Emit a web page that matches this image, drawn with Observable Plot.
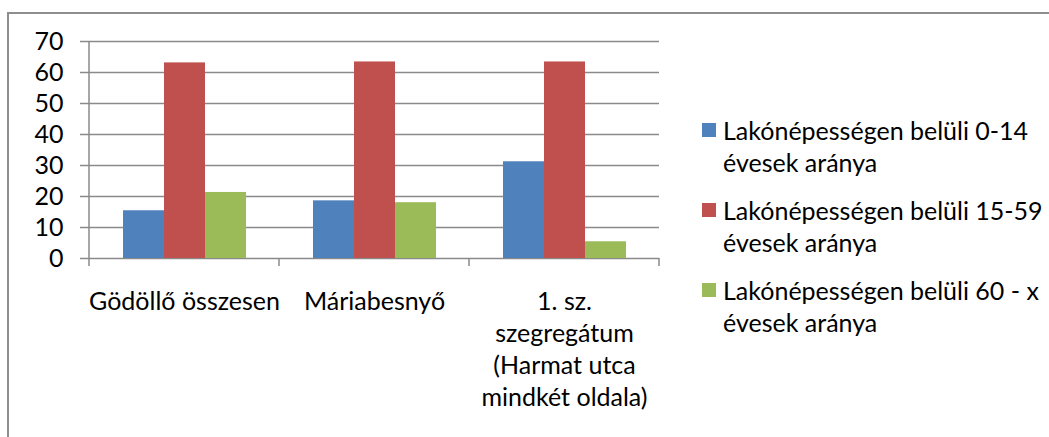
<!DOCTYPE html>
<html>
<head>
<meta charset="utf-8">
<script src="https://cdn.jsdelivr.net/npm/d3@7"></script>
<script src="https://cdn.jsdelivr.net/npm/@observablehq/plot@0.6"></script>
<style>
  html, body { margin: 0; padding: 0; background: #fff; }
  #wrap { position: relative; width: 1049px; height: 437px; overflow: hidden; font-family: Lato, sans-serif; }
  #frame { position: absolute; left: 7px; top: 12px; width: 1100px; height: 500px;
           border-left: 2px solid #8e8e8e; border-top: 2px solid #8e8e8e; pointer-events: none; }
  #chart { position: absolute; left: 0; top: 0; }
  #legend { position: absolute; left: 702px; top: 114px; font-size: 25px; color: #000; }
  .item { display: flex; align-items: flex-start; margin-bottom: 16px; }
  .sw { width: 14px; height: 14px; margin-top: 9px; margin-right: 7px; flex: none; }
  .lab { line-height: 32px; white-space: pre-line; }
</style>
</head>
<body>
<div id="wrap">
  <div id="chart"></div>
  <div id="frame"></div>
  <div id="legend"></div>
</div>
<script>
const categories = ["Gödöllő összesen", "Máriabesnyő", "1. sz.\nszegregátum\n(Harmat utca\nmindkét oldala)"];
const series = [
  "Lakónépességen belüli 0-14\névesek aránya",
  "Lakónépességen belüli 15-59\névesek aránya",
  "Lakónépességen belüli 60 - x\névesek aránya"
];
const values0_14 = [15.4, 18.6, 31.2];
const values15_59 = [63.1, 63.4, 63.4];
const values60x = [21.3, 18.0, 5.4];
const colors = ["#4F81BD", "#C0504D", "#9BBB59"];
const yTicks = [0, 10, 20, 30, 40, 50, 60, 70];

const seriesValues = [values0_14, values15_59, values60x];
const data = [];
categories.forEach((c, i) => series.forEach((s, j) => data.push({category: c, series: s, value: seriesValues[j][i]})));

const gridColor = "#8a8a8a";

const chart = Plot.plot({
  width: 1049,
  height: 437,
  marginLeft: 89,
  marginRight: 390,
  marginTop: 41,
  marginBottom: 179,
  style: {fontFamily: "Lato, sans-serif", fontSize: "25px", color: "#000", background: "transparent", overflow: "visible"},
  fx: {domain: categories, padding: 0, label: null},
  x: {domain: series, paddingInner: 0, paddingOuter: 0.762, axis: null},
  y: {domain: [0, 70], label: null},
  color: {domain: series, range: colors},
  marks: [
    Plot.gridY(yTicks, {stroke: gridColor, strokeOpacity: 1, strokeWidth: 1.5}),
    Plot.barY(data, {fx: "category", x: "series", y: "value", fill: "series"}),
    Plot.axisY(yTicks, {tickSize: 9, tickPadding: 17, stroke: gridColor, strokeWidth: 1.5, fill: "#000", fontSize: 25, label: null}),
    Plot.axisFx({anchor: "bottom", tickSize: 0, tickPadding: 29, lineHeight: 1.28, fontSize: 25, fill: "#000", label: null})
  ]
});

// axis line and category boundary ticks, placed with Plot's own scales
const fx = chart.scale("fx");
const y = chart.scale("y");
const svg = d3.select(chart);
const bounds = categories.map(c => fx.apply(c)).concat([fx.apply(categories[categories.length - 1]) + fx.bandwidth]);
const y0 = y.apply(0), yTop = y.apply(70);
const g = svg.append("g").attr("stroke", gridColor).attr("stroke-width", 1.5);
g.append("line").attr("x1", bounds[0]).attr("x2", bounds[0]).attr("y1", yTop).attr("y2", y0 + 8);
bounds.slice(1).forEach(b => g.append("line").attr("x1", b).attr("x2", b).attr("y1", y0).attr("y2", y0 + 8));

document.getElementById("chart").appendChild(chart);

const legend = document.getElementById("legend");
series.forEach((s, i) => {
  const item = document.createElement("div");
  item.className = "item";
  const sw = document.createElement("div");
  sw.className = "sw";
  sw.style.background = colors[i];
  const lab = document.createElement("div");
  lab.className = "lab";
  lab.textContent = s;
  item.appendChild(sw);
  item.appendChild(lab);
  legend.appendChild(item);
});
</script>
</body>
</html>
